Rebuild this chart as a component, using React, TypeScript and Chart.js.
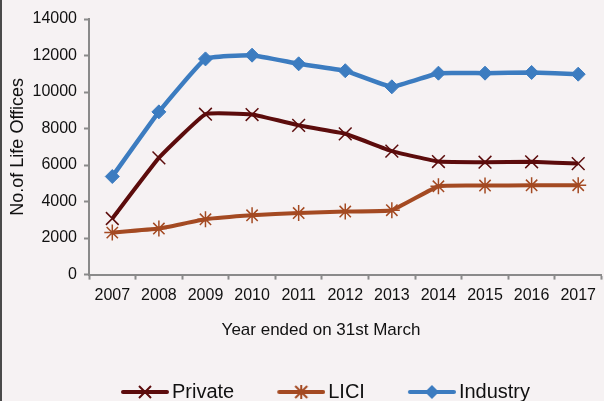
import { useEffect, useRef } from 'react';
import { Chart, registerables } from 'chart.js';

Chart.register(...registerables);

const years = ['2007', '2008', '2009', '2010', '2011', '2012', '2013', '2014', '2015', '2016', '2017'];
const privateOffices = [3072, 6391, 8785, 8768, 8175, 7712, 6759, 6193, 6156, 6179, 6081];
const liciOffices = [2301, 2522, 3030, 3250, 3371, 3455, 3526, 4839, 4877, 4892, 4897];
const industryOffices = [5373, 8913, 11815, 12018, 11546, 11167, 10285, 11032, 11033, 11071, 10978];

const seriesNames = ['Private', 'LICI', 'Industry'];
const yMin = 0;
const yMax = 14000;
const yStep = 2000;
const xTitle = 'Year ended on 31st March';
const yTitle = 'No.of Life Offices';

const C_PRIVATE = '#5c0c0c';
const C_LICI = '#a44a22';
const C_INDUSTRY = '#3c7cc0';
const AXIS = '#8a8a8a';
const TEXT = '#111111';
const FONT = "'Liberation Sans', Arial, sans-serif";

function legendImage(color: string, marker: 'x' | 'star' | 'diamond'): HTMLCanvasElement {
  const c = document.createElement('canvas');
  c.width = 94;
  c.height = 18;
  const ctx = c.getContext('2d')!;
  const cy = 9;
  ctx.strokeStyle = color;
  ctx.fillStyle = color;
  ctx.lineWidth = 4;
  ctx.lineCap = 'round';
  ctx.beginPath();
  ctx.moveTo(48, cy);
  ctx.lineTo(92, cy);
  ctx.stroke();
  const cx = 70;
  ctx.lineCap = 'butt';
  if (marker === 'diamond') {
    const r = 7;
    ctx.beginPath();
    ctx.moveTo(cx, cy - r);
    ctx.lineTo(cx + r, cy);
    ctx.lineTo(cx, cy + r);
    ctx.lineTo(cx - r, cy);
    ctx.closePath();
    ctx.fill();
  } else {
    const r = 6;
    ctx.lineWidth = 2;
    ctx.beginPath();
    ctx.moveTo(cx - r, cy - r);
    ctx.lineTo(cx + r, cy + r);
    ctx.moveTo(cx + r, cy - r);
    ctx.lineTo(cx - r, cy + r);
    if (marker === 'star') {
      ctx.moveTo(cx, cy - r - 1);
      ctx.lineTo(cx, cy + r + 1);
    }
    ctx.stroke();
  }
  return c;
}

export default function App() {
  const ref = useRef<HTMLCanvasElement | null>(null);

  useEffect(() => {
    if (!ref.current) return;
    Chart.defaults.font.family = FONT;
    const images = [
      legendImage(C_PRIVATE, 'x'),
      legendImage(C_LICI, 'star'),
      legendImage(C_INDUSTRY, 'diamond'),
    ];
    const chart = new Chart(ref.current, {
      type: 'line',
      data: {
        labels: years,
        datasets: [
          {
            label: seriesNames[0],
            data: privateOffices,
            borderColor: C_PRIVATE,
            backgroundColor: C_PRIVATE,
            borderWidth: 4,
            pointStyle: 'crossRot',
            pointRadius: 9,
            pointBorderWidth: 1.5,
            tension: 0.1,
          },
          {
            label: seriesNames[1],
            data: liciOffices,
            borderColor: C_LICI,
            backgroundColor: C_LICI,
            borderWidth: 4,
            pointStyle: 'star',
            pointRadius: 8,
            pointBorderWidth: 1.5,
            tension: 0.1,
          },
          {
            label: seriesNames[2],
            data: industryOffices,
            borderColor: C_INDUSTRY,
            backgroundColor: C_INDUSTRY,
            borderWidth: 4.5,
            pointStyle: 'rectRot',
            pointRadius: 7,
            pointBorderWidth: 1,
            tension: 0.1,
          },
        ],
      },
      options: {
        animation: false,
        responsive: false,
        maintainAspectRatio: false,
        layout: { padding: { top: 19, left: 0, right: 0, bottom: 0 } },
        scales: {
          x: {
            offset: true,
            grid: {
              display: true,
              offset: true,
              drawOnChartArea: false,
              drawTicks: true,
              tickLength: 5,
              tickColor: AXIS,
              tickWidth: 2,
            },
            border: { color: AXIS, width: 2 },
            ticks: {
              color: TEXT,
              font: { size: 16 },
              padding: 6,
              maxRotation: 0,
              autoSkip: false,
            },
            afterFit: (s: any) => {
              s.height = 30;
            },
          },
          y: {
            min: yMin,
            max: yMax,
            grid: {
              drawOnChartArea: false,
              drawTicks: true,
              tickLength: 5,
              tickColor: AXIS,
              tickWidth: 2,
            },
            border: { color: AXIS, width: 2 },
            ticks: {
              stepSize: yStep,
              color: TEXT,
              font: { size: 16 },
              padding: 7,
              callback: (v: any) => String(v),
            },
            title: {
              display: true,
              text: yTitle,
              color: TEXT,
              font: { size: 18 },
              padding: { top: 7, bottom: 0 },
            },
            afterFit: (s: any) => {
              s.width = 89;
            },
          },
        },
        plugins: {
          legend: {
            position: 'bottom',
            labels: {
              usePointStyle: true,
              pointStyleWidth: 80,
              padding: 4,
              color: TEXT,
              font: { size: 20 },
              generateLabels: (c: any) =>
                c.data.datasets.map((ds: any, i: number) => ({
                  text: ds.label,
                  pointStyle: images[i],
                  fillStyle: 'rgba(0,0,0,0)',
                  strokeStyle: 'rgba(0,0,0,0)',
                  lineWidth: 0,
                  hidden: false,
                  datasetIndex: i,
                  fontColor: TEXT,
                })),
            },
          },
          title: {
            display: true,
            position: 'bottom',
            weight: 500,
            text: xTitle,
            color: TEXT,
            font: { size: 17, weight: 'normal' },
            padding: { top: 16, bottom: 37 },
          },
          tooltip: { enabled: false },
        },
      },
      plugins: [
        {
          id: 'shiftTitle',
          afterLayout(c: any) {
            const t = c.titleBlock;
            if (t) {
              t.left += 15;
              t.right += 15;
            }
          },
        },
      ],
    } as any);
    return () => chart.destroy();
  }, []);

  return (
    <div
      style={{
        position: 'fixed',
        left: 0,
        top: 0,
        width: 604,
        height: 401,
        overflow: 'hidden',
        background: '#f6f2f3',
      }}
    >
      <canvas ref={ref} width={612} height={412} style={{ display: 'block', width: 612, height: 412 }} />
      <div
        style={{
          position: 'absolute',
          left: 0,
          top: 0,
          width: 2,
          height: 401,
          background: '#4a4a4a',
        }}
      />
    </div>
  );
}
